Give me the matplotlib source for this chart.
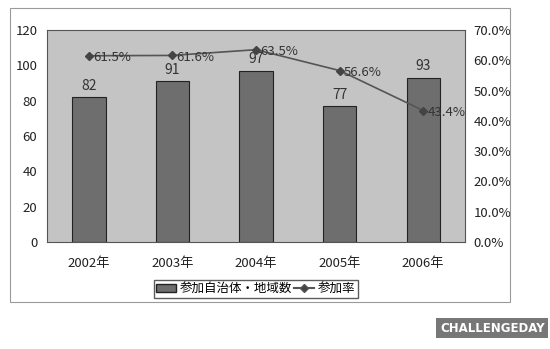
import matplotlib.pyplot as plt
from matplotlib.patches import Rectangle
from matplotlib.lines import Line2D

plt.rcParams['font.family'] = ['Noto Sans CJK JP', 'DejaVu Sans']

years = ['2002年', '2003年', '2004年', '2005年', '2006年']
counts = [82, 91, 97, 77, 93]
rates = [61.5, 61.6, 63.5, 56.6, 43.4]

fig = plt.figure(figsize=(5.5, 3.49), dpi=100)
fig.patch.set_facecolor('white')

# outer chart frame
fig.patches.append(Rectangle((0.018, 0.135), 0.909, 0.842, transform=fig.transFigure,
                             fill=False, edgecolor='#9a9a9a', linewidth=0.8))

ax = fig.add_axes([0.0855, 0.307, 0.76, 0.607])
ax.set_facecolor('#c4c4c4')
x = range(len(years))
ax.bar(x, counts, width=0.4, color='#6e6e6e', edgecolor='#222222', linewidth=0.8,
       label='参加自治体・地域数', zorder=2)
for i, v in enumerate(counts):
    ax.text(i, v + 2.5, str(v), ha='center', va='bottom', fontsize=10, color='#333333')
ax.set_ylim(0, 120)
ax.set_yticks(range(0, 121, 20))
ax.set_xlim(-0.5, 4.5)
ax.set_xticks(list(x))
ax.set_xticklabels(years)
ax.tick_params(axis='both', length=0, labelsize=9.5, colors='#222222')
ax.tick_params(axis='x', pad=11)
ax.tick_params(axis='y', pad=7)
for s in ax.spines.values():
    s.set_color('#555555')
    s.set_linewidth(0.8)

ax2 = ax.twinx()
ax2.plot(x, rates, color='#555555', marker='D', markersize=4,
         markerfacecolor='#444444', markeredgecolor='#444444', linewidth=1.2,
         label='参加率', zorder=3)
for i, v in enumerate(rates):
    ax2.text(i + 0.05, v - 0.6, f'{v:.1f}%', ha='left', va='center', fontsize=9.5, color='#333333')
ax2.set_ylim(0, 70)
ax2.set_yticks(range(0, 71, 10))
ax2.set_yticklabels([f'{t:.1f}%' for t in range(0, 71, 10)])
ax2.tick_params(axis='y', length=0, labelsize=9.5, colors='#222222', pad=6)
for s in ax2.spines.values():
    s.set_visible(False)

handles = [Rectangle((0, 0), 1, 1, facecolor='#6e6e6e', edgecolor='#222222'),
           Line2D([], [], color='#555555', marker='D', markersize=4, markerfacecolor='#444444')]
fig.legend(handles, ['参加自治体・地域数', '参加率'], loc='center',
           bbox_to_anchor=(0.465, 0.172), ncol=2, fontsize=9, frameon=True,
           fancybox=False, edgecolor='#333333', handlelength=1.6, handletextpad=0.3,
           columnspacing=0.1, borderpad=0.2, borderaxespad=0)

fig.text(0.895, 0.06, 'CHALLENGEDAY', ha='center', va='center', fontsize=8.5,
         fontweight='bold', color='white', family='DejaVu Sans',
         bbox=dict(boxstyle='square,pad=0.3', facecolor='#777777', edgecolor='none'))

fig.savefig('out.png', dpi=100)
